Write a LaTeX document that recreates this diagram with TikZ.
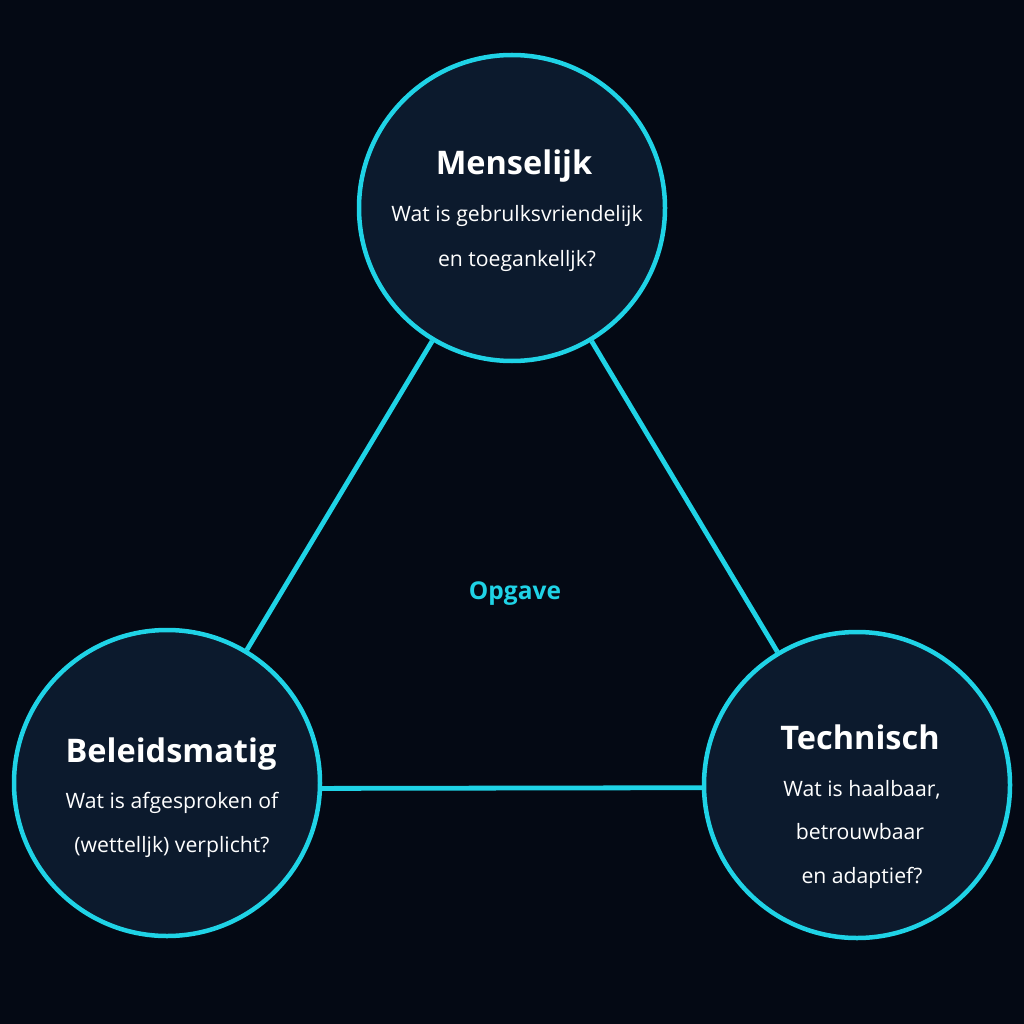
\documentclass[tikz,border=0pt]{standalone}
\usepackage{fontspec}
\setmainfont{Open Sans}
\definecolor{bg}{HTML}{040914}
\definecolor{cfill}{HTML}{0C1A2D}
\definecolor{cyanl}{HTML}{1FD3E6}
\begin{document}
\begin{tikzpicture}[x=1pt,y=-1pt,
  circ/.style={circle,draw=cyanl,line width=4.5pt,fill=cfill,minimum size=306pt,inner sep=0pt},
  conn/.style={draw=cyanl,line width=4.8pt},
  title/.style={text=white,font=\fontsize{32.5}{38}\selectfont\bfseries,anchor=base},
  body/.style={text=white,font=\fontsize{21.2}{25}\selectfont,anchor=base}]
\fill[bg] (0,0) rectangle (1024,1024);
\useasboundingbox (0,0) rectangle (1024,1024);
\node[circ] (top) at (512,208) {};
\node[circ] (left) at (167,783) {};
\node[circ] (right) at (857,785) {};
\draw[conn] (top) -- (left);
\draw[conn] (top) -- (right);
\draw[conn] (left.-2.6) -- (right.181.9);
\node[title] (t1) at (514,175) {Menselijk};
\node[body] (t1a) at (517,222) {Wat is gebrulksvriendelijk};
\node[body] (t1b) at (517,266) {en toegankelljk?};
\node[title] (t2) at (171,762) {Beleidsmatig};
\node[body] (t2a) at (172,808) {Wat is afgesproken of};
\node[body] (t2b) at (172,852) {(wettelljk) verplicht?};
\node[title] (t3) at (860,749) {Technisch};
\node[body] (t3a) at (862,796) {Wat is haalbaar,};
\node[body] (t3b) at (860,839) {betrouwbaar};
\node[body] (t3c) at (862,883) {en adaptief?};
\node[text=cyanl,font=\fontsize{24.5}{28}\selectfont\bfseries,anchor=base] (op) at (515,599) {Opgave};
\end{tikzpicture}
\end{document}
